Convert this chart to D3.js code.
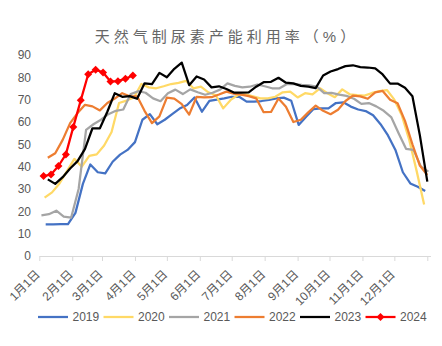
<!DOCTYPE html>
<html>
<head>
<meta charset="utf-8">
<script src="https://cdn.jsdelivr.net/npm/d3@7"></script>
<style>
  html, body { margin: 0; padding: 0; background: #fff; }
  svg { display: block; }
  text { font-family: "Liberation Sans", "Noto Sans CJK SC", sans-serif; fill: #595959; }
</style>
</head>
<body>
<svg id="chart" width="442" height="346"></svg>
<script>
// Weekly natural-gas urea capacity utilisation (%), one array per year
const years = ["2019", "2020", "2021", "2022", "2023", "2024"];
const colors = ["#4472C4", "#FFD966", "#A5A5A5", "#ED7D31", "#000000", "#FF0000"];
// first weekly reading of each year (month-day)
const firstWeek = ["01-07", "01-06", "01-03", "01-09", "01-09", "01-05"];

const v2019 = [14.2,14.2,14.3,14.3,19.3,32.3,41,37.5,37,42.2,45.4,47.5,51,61,63.5,59,61,63.5,66,67.6,
  71,64.6,69.5,70,70.6,71.3,71.3,69.1,69.1,69.4,69.9,70.6,70.9,69.5,58.7,62.4,65.8,66.1,66.1,68.5,
  68.8,66.9,65.6,64.9,63,59,54,47.5,37.5,32.5,31,29.1];
const v2020 = [26.1,28.5,32.5,38,43.5,40,44.8,45.5,49.5,55.5,68.5,69.6,71,77,75.5,75.1,76,77,77.5,78.4,
  75.1,75.8,73.3,72,66.1,69.9,72.1,72.4,71.5,70.6,70.6,71.3,73.3,73.6,71,72.9,72.4,75.1,72.9,71.1,
  74.6,72.4,72,71.8,73,73.8,74.3,70,63,52,38,23.1];
const v2021 = [18.2,18.7,20.3,17.6,17.2,30,56.5,59,61,63.5,65,65.6,72.5,73.8,73.1,70.6,69.3,72.9,74.5,72.5,
  74.6,73.3,72.2,73.1,74.5,77.3,76.2,75.5,75.8,76.8,76,75.1,75.1,77,77,76.6,76.4,75.8,72.9,73,
  72.3,71.7,70.4,68.1,68.5,67,65,62.2,55,48,47.5,40,37.8];
const v2022 = [44,46,52,59.5,64,67.7,67,65.2,68.5,70.5,72.9,71.5,71.5,65,59.5,62.5,70.9,70.5,68,63.3,
  71.3,71,71.1,72.3,73.6,72.7,72.3,71.6,70.6,64.4,64.5,70.5,66.8,60,61,64.3,67.3,65,63.5,65.5,
  69.4,71.8,71.5,70.4,73.3,73.9,70,68.4,60.5,50,40.5,36.3];
const v2023 = [34.3,32.3,35.3,39.2,42.5,48,57.2,57.2,64.6,72.9,71.3,71.6,70.4,77.3,77,82,80,83.8,86.6,76.5,
  80.4,79,75.5,76,74.8,73.2,73.2,73.3,75.8,77.8,78,79.8,77.6,77.3,76.2,75.8,75.2,80.8,82.6,83.7,
  85,85.4,84.6,84.4,84,81.3,77.2,77.2,75.3,71.5,54,33.3];
const v2024 = [35.8,36.5,40.3,45.5,57.8,69.7,81.4,83.4,82.2,78.1,78.3,79.4,80.8];
const seriesValues = [v2019, v2020, v2021, v2022, v2023, v2024];

const yTicks = [0, 10, 20, 30, 40, 50, 60, 70, 80, 90];
const monthLabels = ["1月1日","2月1日","3月1日","4月1日","5月1日","6月1日",
  "7月1日","8月1日","9月1日","10月1日","11月1日","12月1日"];
const title = "天然气制尿素产能利用率（%）";

// all years are laid over one common calendar year
const baseYear = 2021;
const parseMD = md => { const [m, d] = md.split("-").map(Number); return new Date(baseYear, m - 1, d); };

const series = years.map((name, i) => {
  const start = parseMD(firstWeek[i]);
  return {
    name, color: colors[i], markers: name === "2024",
    points: seriesValues[i].map((v, k) => ({ date: d3.timeDay.offset(start, 7 * k), value: v }))
  };
});

const svg = d3.select("#chart");

const x = d3.scaleTime()
  .domain([new Date(baseYear, 0, 1), new Date(baseYear + 1, 0, 4)])
  .range([39.3, 430.5]);
const y = d3.scaleLinear().domain([0, 90]).range([256, 55]);

// title
svg.append("text")
  .attr("x", 227).attr("y", 36.5).attr("dy", "0.35em")
  .attr("text-anchor", "middle")
  .style("font-size", "15px").style("letter-spacing", "4px")
  .style("fill", "#666")
  .text(title);

// y tick labels (no axis line)
svg.append("g").selectAll("text").data(yTicks).join("text")
  .attr("x", 31).attr("y", d => y(d)).attr("dy", "0.35em")
  .attr("text-anchor", "end").style("font-size", "12px")
  .text(d => d);

// x axis with monthly ticks
const monthTicks = d3.timeMonth.range(new Date(baseYear, 0, 1), new Date(baseYear + 1, 0, 2));
const xAxis = svg.append("g").attr("transform", `translate(0,${y(0)})`)
  .call(d3.axisBottom(x).tickValues(monthTicks).tickSize(5).tickSizeOuter(0)
    .tickFormat((d, i) => monthLabels[i] || ""));
xAxis.select(".domain").attr("stroke", "#D9D9D9");
xAxis.selectAll(".tick line").attr("stroke", "#D9D9D9");
xAxis.selectAll(".tick text")
  .attr("fill", "#666").attr("y", 0).attr("dy", 0)
  .attr("text-anchor", "end")
  .attr("transform", "translate(1,19) rotate(-45)")
  .style("font-size", "12px")
  .style("font-family", "\"Liberation Sans\", \"Noto Sans CJK SC\", sans-serif");

// series lines
const line = d3.line().x(d => x(d.date)).y(d => y(d.value));
const diamond = r => `M0,${-r}L${r},0L0,${r}L${-r},0Z`;

const plot = svg.append("g");
series.forEach(s => {
  plot.append("path").datum(s.points)
    .attr("fill", "none").attr("stroke", s.color)
    .attr("stroke-width", 2.25).attr("stroke-linejoin", "round")
    .attr("d", line);
  if (s.markers) {
    plot.append("g").selectAll("path").data(s.points).join("path")
      .attr("transform", d => `translate(${x(d.date)},${y(d.value)})`)
      .attr("d", diamond(4)).attr("fill", s.color);
  }
});

// legend
const legend = svg.append("g").attr("transform", "translate(0,317)");
let lx = 38;
series.forEach(s => {
  const g = legend.append("g").attr("transform", `translate(${lx},0)`);
  g.append("line").attr("x1", 0).attr("x2", 30).attr("stroke", s.color).attr("stroke-width", 2.25);
  if (s.markers) g.append("path").attr("transform", "translate(15,0)").attr("d", diamond(4)).attr("fill", s.color);
  const t = g.append("text").attr("x", 34.5).attr("dy", "0.35em").style("font-size", "12px").text(s.name);
  lx += 34.5 + t.node().getComputedTextLength() + 4.3;
});
</script>
</body>
</html>
